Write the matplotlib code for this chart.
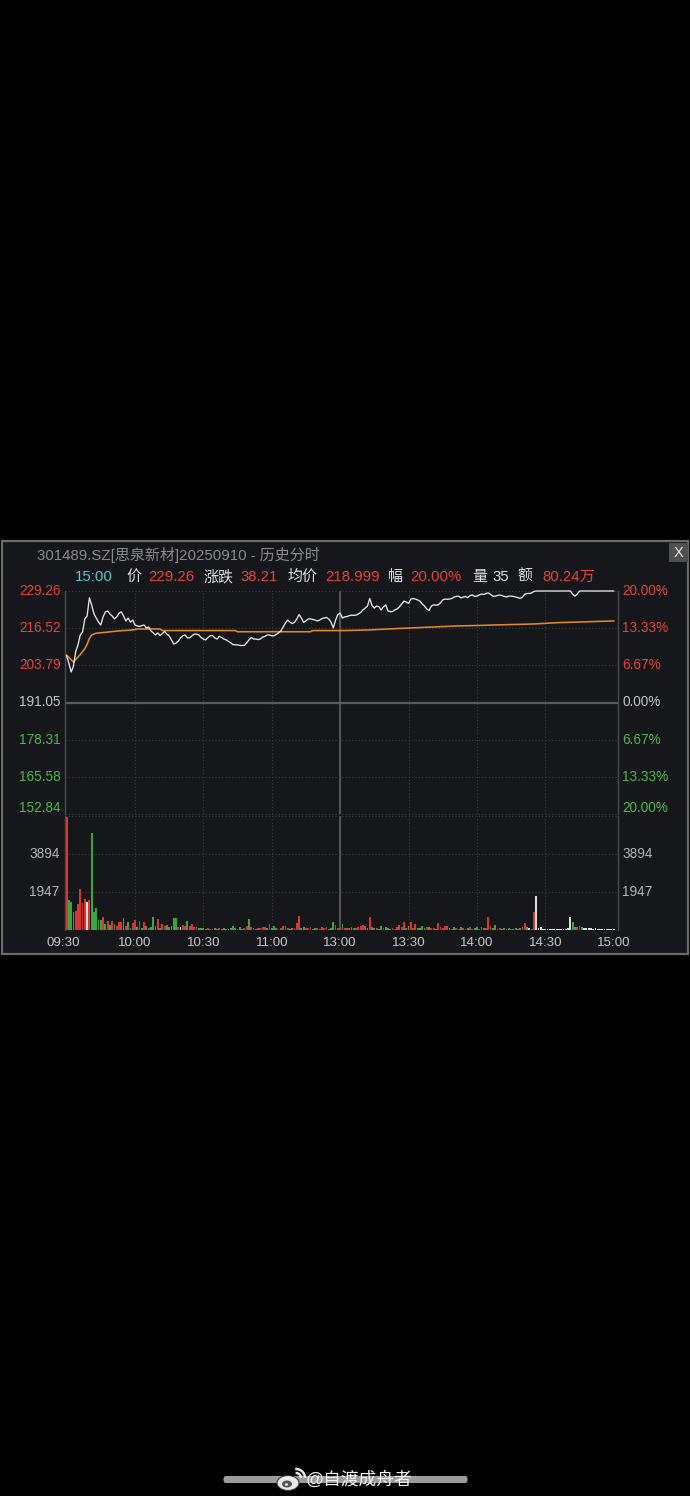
import matplotlib
matplotlib.use("Agg")
import matplotlib.pyplot as plt
from matplotlib.patches import Rectangle, FancyBboxPatch, Ellipse, Arc

W, H = 690, 1496
BG = "#16171b"
RED = "#e4423c"
GREEN = "#4db84a"
GREY = "#c4c4c4"
FONT = ["Liberation Sans", "Noto Sans CJK SC", "DejaVu Sans"]
plt.rcParams["font.family"] = FONT

# ---- data ----------------------------------------------------------------
TICK_MIN = [0, 30, 60, 90, 120, 150, 180, 210, 240]
TICK_LBL = ["09:30", "10:00", "10:30", "11:00", "13:00", "13:30", "14:00", "14:30", "15:00"]

PRICE_TICKS = [229.26, 216.52, 203.79, 191.05, 178.31, 165.58, 152.84]
PCT_LABELS = ["20.00%", "13.33%", "6.67%", "0.00%", "6.67%", "13.33%", "20.00%"]
VOL_TICKS = [1947, 3894]
VOL_MAX = 5841

# minute-by-minute price, 09:30 .. ~14:05, then sparse points at limit-up
PRICE_HEAD = [
    207.0, 204.5, 201.5, 203.5, 208.5, 210.8, 214.2, 215.2, 219.7, 220.7,
    226.9, 224.5, 221.4, 220.0, 218.6, 217.6, 220.4, 222.1, 222.4, 221.4,
    220.7, 219.7, 220.4, 221.7, 222.1, 220.7, 219.0, 220.0, 218.6, 219.3,
    217.6, 217.3, 217.1, 217.4, 217.6, 216.6, 216.9, 215.6, 214.9, 214.2,
    214.9, 214.0, 214.7, 215.4, 214.5, 213.9, 212.5, 211.1, 211.4, 212.1,
    213.2, 213.9, 214.2, 213.2, 213.2, 213.9, 214.5, 214.5, 214.2, 213.3,
    212.8, 212.5, 213.3, 213.9, 214.0, 213.2, 212.8, 213.7, 213.3, 212.8,
    212.5, 212.0, 211.5, 210.9, 210.8, 210.8, 210.6, 210.6, 210.6, 211.5,
    212.5, 213.3, 212.8, 212.8, 212.6, 212.8, 213.5, 213.7, 214.2, 214.2,
    213.9, 213.9, 214.4, 214.9, 215.6, 216.9, 218.3, 219.3, 218.6, 218.1,
    218.5, 219.7, 221.2, 220.0, 218.5, 219.0, 219.7, 219.7, 219.5, 219.3,
    219.0, 219.3, 219.8, 220.0, 220.2, 219.7, 218.6, 216.6, 219.3, 221.2,
    221.7, 220.0, 220.4, 220.5, 220.8, 221.0, 220.9, 221.0, 221.4, 221.9,
    222.8, 223.4, 224.1, 226.7, 224.3, 223.4, 224.1, 223.9, 222.8, 223.8,
    224.5, 222.4, 222.2, 222.2, 222.8, 223.1, 223.8, 224.8, 225.8, 225.5,
    225.0, 226.5, 226.7, 226.5, 226.2, 225.8, 224.8, 224.1, 223.1, 222.6,
    224.1, 224.5, 224.4, 224.5, 225.2, 226.2, 226.5, 226.4, 226.5, 226.7,
    227.2, 227.4, 227.5, 226.9, 227.2, 227.4, 227.0, 227.7, 227.9, 227.4,
    227.5, 227.9, 228.2, 228.1, 228.4, 228.6, 228.1, 227.5, 227.5, 227.7,
    227.9, 227.7, 227.4, 227.2, 227.5, 227.5, 227.4, 227.2, 227.0, 226.7,
    227.2, 228.2, 228.4, 228.4, 228.6, 229.1,
]
PRICE_TAIL_MIN = [206, 221, 222, 223, 224, 225, 240]
PRICE_TAIL = [229.26, 229.26, 228.2, 227.5, 228.2, 229.26, 229.26]

AVG_MIN = [0, 3, 6, 8, 9, 10, 11, 13, 17, 23, 29, 31, 41, 42, 74, 75, 107,
           108, 122, 132, 148, 157, 172, 181, 187, 205, 215, 240]
AVG = [207.3, 204.9, 207.5, 209.5, 211.0, 213.0, 214.2, 214.8, 215.1, 215.6,
       215.9, 216.25, 216.25, 215.7, 215.7, 215.3, 215.3, 215.7, 215.7, 215.9,
       216.5, 216.8, 217.3, 217.45, 217.6, 217.96, 218.4, 219.0]

VOL = [
    5800, 1560, 1430, 910, 970, 1310, 2090, 1380, 1610, 1430,
    1560, 4950, 910, 1120, 520, 520, 690, 310, 480, 260,
    480, 310, 230, 410, 410, 590, 180, 430, 120, 350,
    520, 150, 480, 120, 430, 225, 100, 150, 690, 200,
    570, 120, 310, 180, 260, 150, 200, 620, 600, 150,
    140, 260, 180, 480, 225, 310, 170, 170, 100, 80,
    120, 60, 90, 60, 50, 80, 60, 90, 50, 80,
    60, 50, 100, 225, 80, 60, 170, 60, 100, 225,
    540, 140, 100, 60, 80, 100, 140, 140, 80, 310,
    100, 225, 80, 60, 100, 225, 225, 100, 60, 80,
    120, 350, 740, 120, 140, 80, 100, 170, 60, 80,
    100, 60, 170, 80, 170, 60, 100, 430, 260, 120,
    100, 310, 100, 120, 80, 140, 100, 120, 150, 225,
    260, 225, 120, 660, 170, 100, 80, 60, 225, 100,
    140, 80, 60, 80, 60, 140, 280, 170, 400, 120,
    225, 400, 100, 310, 100, 80, 225, 100, 140, 140,
    100, 80, 60, 350, 170, 100, 225, 225, 80, 60,
    170, 80, 60, 140, 80, 60, 100, 170, 60, 80,
    140, 60, 140, 80, 100, 690, 225, 80, 260, 60,
    80, 50, 80, 60, 80, 50, 60, 80, 50, 100,
    140, 350, 140, 80, 60, 920, 1750, 100, 140, 60,
    50, 60, 50, 60, 50, 60, 50, 60, 50, 60,
    100, 660, 400, 140, 140, 225, 140, 100, 80, 100,
    80, 60, 80, 60, 50, 60, 40, 40, 30, 30,
    35,
]
# u = up (red), d = down (green), f = flat (white), one per minute
VOL_DIR = (
    "uddduuuuuf" "udddddudud" "uduuududdu" "ududududdd"
    "uduudddddu" "fuuduuuudd" "dduuuddudd" "dddddudduu"
    "duuduuuudu" "ddduuuuudd" "uuudduuudd" "uduuuddduu"
    "uduuuuduuu" "uuuudduddu" "ddduuuuuud" "duuuddddud"
    "uuduuuuudu" "duududduud" "duuduuuddu" "uddddudddd"
    "uudfuuffff" "ffffffffff" "ffdduudfff" "ffffffffff"
    "f"
)

# ---- figure --------------------------------------------------------------
fig = plt.figure(figsize=(W / 100, H / 100), dpi=100, facecolor="black")


def fx(x):
    return x / W


def fy(y):
    return 1 - y / H


fig.patches.append(Rectangle((fx(2), fy(954)), 686 / W, 413 / H,
                             transform=fig.transFigure, facecolor=BG,
                             edgecolor="#6b6b6b", linewidth=1.6, zorder=-3))
# close button
fig.patches.append(Rectangle((fx(669), fy(562)), 19 / W, 19 / H,
                             transform=fig.transFigure, facecolor="#505050",
                             edgecolor="none", zorder=-2))
fig.text(fx(678.5), fy(552.5), "X", color="#e8e8e8", fontsize=10.5,
         ha="center", va="center")

fig.text(fx(37), fy(555), "301489.SZ[思泉新材]20250910 - 历史分时",
         color="#8a8a8a", fontsize=10.8, ha="left", va="center")

header = [
    (75, "15:00", "#5cc4cc"), (126, "价", "#e0e0e0"), (148, "229.26", RED),
    (203, "涨跌", "#e0e0e0"), (240, "38.21", RED), (287, "均价", "#e0e0e0"),
    (325, "218.999", RED), (388, "幅", "#e0e0e0"), (410, "20.00%", RED),
    (472, "量", "#e0e0e0"), (492, "35", "#e0e0e0"), (517, "额", "#e0e0e0"),
    (542, "80.24万", RED),
]
for x, s, c in header:
    fig.text(fx(x), fy(577), s, color=c, fontsize=10.8, ha="left", va="center")

L, R = 65, 618
ax = fig.add_axes([fx(L), fy(814), (R - L) / W, (814 - 591) / H])
axv = fig.add_axes([fx(L), fy(930), (R - L) / W, (930 - 816) / H])

XLIM = (-0.7, 241.9)
DOT = (0, (1, 2))
GRID = "#3d3e44"
for a in (ax, axv):
    a.set_facecolor(BG)
    a.set_xlim(*XLIM)
    a.set_xticks([])
    a.set_yticks([])
    for s in ("top", "bottom"):
        a.spines[s].set_visible(False)
    for s in ("left", "right"):
        a.spines[s].set_color("#4a4b50")
        a.spines[s].set_linewidth(1.0)
    for m in TICK_MIN[1:-1]:
        if m == 120:
            a.axvline(m, color="#5a5b60", lw=1.3, zorder=1)
        else:
            a.axvline(m, color=GRID, lw=0.8, ls=DOT, zorder=1)

ax.set_ylim(PRICE_TICKS[-1], PRICE_TICKS[0])
for i, p in enumerate(PRICE_TICKS):
    if i == 3:
        ax.axhline(p, color="#5a5b60", lw=1.6, zorder=1)
    elif i < len(PRICE_TICKS) - 1:
        ax.axhline(p, color=GRID, lw=0.8, ls=DOT, zorder=1)
ax.axhline(PRICE_TICKS[-1], color=GRID, lw=0.8, ls=DOT, zorder=1, clip_on=False)

tr = ax.get_yaxis_transform()
for i, (p, pct) in enumerate(zip(PRICE_TICKS, PCT_LABELS)):
    c = RED if i < 3 else (GREY if i == 3 else GREEN)
    yy = p if i < len(PRICE_TICKS) - 1 else p + 2.1
    ax.text(-0.008, yy, f"{p:.2f}", transform=tr, color=c, fontsize=9.8,
            ha="right", va="center")
    ax.text(1.008, yy, pct, transform=tr, color=c, fontsize=9.8,
            ha="left", va="center")

price_min = list(range(len(PRICE_HEAD))) + PRICE_TAIL_MIN
price = PRICE_HEAD + PRICE_TAIL
ax.plot(AVG_MIN, AVG, color="#e0892c", lw=1.15, zorder=3, clip_on=False)
ax.plot(price_min, price, color="#e6e6e6", lw=0.95, zorder=4, clip_on=False)

axv.set_ylim(0, VOL_MAX)
axv.axhline(VOL_MAX, color=GRID, lw=0.8, ls=DOT, zorder=1, clip_on=False)
for v in VOL_TICKS:
    axv.axhline(v, color=GRID, lw=0.8, ls=DOT, zorder=1)
trv = axv.get_yaxis_transform()
for v in VOL_TICKS:
    axv.text(-0.010, v, str(v), transform=trv, color="#b4b4b4", fontsize=9.8,
             ha="right", va="center")
    axv.text(1.008, v, str(v), transform=trv, color="#b4b4b4", fontsize=9.8,
             ha="left", va="center")

cmap = {"u": "#d9362f", "d": "#3aa640", "f": "#dcdcdc"}
colors = [cmap[d] for d in VOL_DIR[:len(VOL)]]
axv.bar(range(len(VOL)), VOL, width=0.8, color=colors, linewidth=0, zorder=3)

for m, lbl in zip(TICK_MIN, TICK_LBL):
    xx = m - 1.5 if m == 0 else m
    axv.text(xx, -0.11, lbl, transform=axv.get_xaxis_transform(),
             color="#c4c4c4", fontsize=9.6, ha="center", va="center")

# ---- bottom watermark ----------------------------------------------------
fig.patches.append(FancyBboxPatch((fx(223), fy(1483)), 245 / W, 7 / H,
                                  boxstyle="round,pad=0.0,rounding_size=0.004",
                                  transform=fig.transFigure, facecolor="#9c9c9c",
                                  edgecolor="none", zorder=-3))
lax = fig.add_axes([fx(276), fy(1492), 30 / W, 26 / H])
lax.set_xlim(0, 30)
lax.set_ylim(0, 26)
lax.axis("off")
lax.add_patch(Ellipse((12, 9), 22, 15, facecolor="#e8e8e8", edgecolor="#333", lw=0.8))
lax.add_patch(Ellipse((11, 8), 10, 7, facecolor="#555", edgecolor="none"))
lax.add_patch(Ellipse((10.5, 7.5), 3.2, 2.6, facecolor="#e8e8e8", edgecolor="none"))
lax.add_patch(Arc((20, 14), 10, 10, theta1=0, theta2=95, color="#e8e8e8", lw=1.8))
lax.add_patch(Arc((20, 14), 18, 18, theta1=0, theta2=95, color="#e8e8e8", lw=1.8))
fig.text(fx(306), fy(1480), "@自渡成舟者", color="#f2f2f2", fontsize=12.8,
         ha="left", va="center", zorder=5)

fig.savefig("out.png", dpi=100, facecolor="black")
